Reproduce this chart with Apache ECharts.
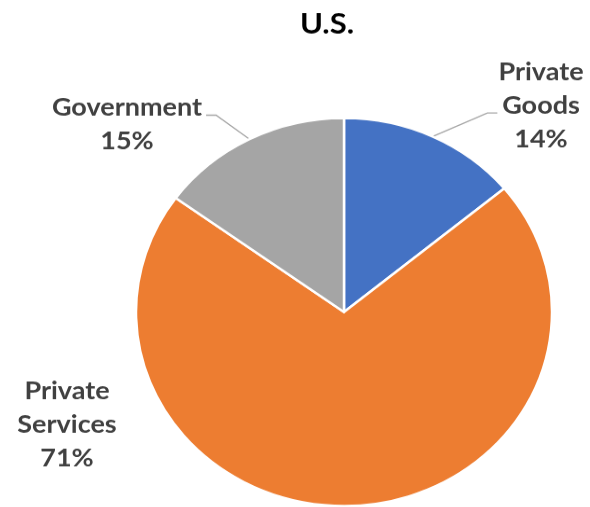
<!DOCTYPE html>
<html>
<head>
<meta charset="utf-8">
<script src="https://cdn.jsdelivr.net/npm/echarts@6/dist/echarts.min.js"></script>
<style>
  html, body { margin: 0; padding: 0; width: 590px; height: 507px; overflow: hidden; background: #fff; }
  /* the pie is drawn slightly flattened: render tall, then squeeze vertically */
  #chart { width: 590px; height: 544px; transform: scaleY(0.9327); transform-origin: 0 0; }
</style>
</head>
<body>
<div id="chart"></div>
<script>
// Share of output by sector (percent)
const categories = ['Private Goods', 'Private Services', 'Government'];
const shares = [14, 71, 15];
const chartTitle = 'U.S.';

const sliceColors = ['#4472C4', '#ED7D31', '#A5A5A5'];

// Where each label block sits (chart pixels, before the vertical squeeze)
const labelSpots = {
  'Private Goods':    { x: 541, y: 113.6, lead: 'left',  lineDy: 7.5 },
  'Private Services': { x: 67,  y: 455.7 },
  'Government':       { x: 127, y: 133.5, lead: 'right', lineDy: -10 }
};

const chart = echarts.init(document.getElementById('chart'), null, { renderer: 'canvas' });

const pieData = categories.map((name, i) => ({
  name: name,
  value: shares[i],
  itemStyle: { color: sliceColors[i] },
  labelLine: { show: !!labelSpots[name].lead }
}));

chart.setOption({
  animation: false,
  title: {
    text: chartTitle,
    left: 322,
    top: 5,
    textAlign: 'center',
    textStyle: { fontFamily: 'Lato', fontWeight: 'bold', fontSize: 31, color: '#000' }
  },
  series: [{
    type: 'pie',
    center: [344, 334.5],
    radius: 208,
    startAngle: 90,
    clockwise: true,
    avoidLabelOverlap: false,
    emphasis: { disabled: true },
    itemStyle: { borderColor: '#fff', borderWidth: 2.5 },
    label: {
      show: true,
      position: 'outside',
      fontFamily: 'Lato',
      fontWeight: 'bold',
      fontSize: 27,
      lineHeight: 36,
      color: '#404040',
      formatter: p => p.name.replace(' ', '\n') + '\n' + Math.round(p.percent) + '%'
    },
    labelLine: {
      show: true,
      length: 10,
      length2: 10,
      lineStyle: { color: '#A6A6A6', width: 1.3 }
    },
    labelLayout: function (params) {
      const spot = labelSpots[categories[params.dataIndex]];
      const out = { x: spot.x, y: spot.y, align: 'center', verticalAlign: 'middle' };
      if (spot.lead && params.labelLinePoints) {
        const w = params.labelRect.width;
        const ly = spot.y + spot.lineDy;
        const start = params.labelLinePoints[0];
        if (spot.lead === 'left') {
          const ex = spot.x - w / 2 - 1;
          out.labelLinePoints = [start, [ex - 10, ly], [ex, ly]];
        } else {
          const ex = spot.x + w / 2 + 4;
          out.labelLinePoints = [start, [ex + 10, ly], [ex, ly]];
        }
      }
      return out;
    },
    data: pieData
  }]
});
</script>
</body>
</html>
